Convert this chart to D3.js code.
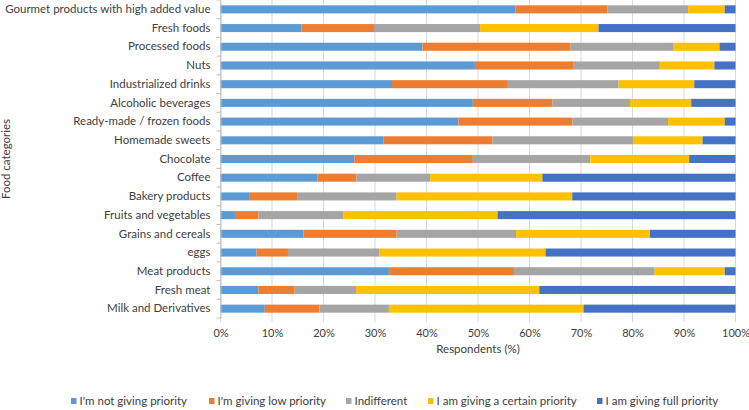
<!DOCTYPE html>
<html><head><meta charset="utf-8">
<script src="https://cdn.jsdelivr.net/npm/d3@7"></script>
<style>body{margin:0;background:#fff;} svg{display:block;} text{font-family:Lato,"Noto Sans",sans-serif;fill:#404040;}</style>
</head><body><svg id="c" width="749" height="410"></svg>
<script>
const categories = ["Gourmet products with high added value","Fresh foods","Processed foods","Nuts","Industrialized drinks","Alcoholic beverages","Ready-made / frozen foods","Homemade sweets","Chocolate","Coffee","Bakery products","Fruits and vegetables","Grains and cereals","eggs","Meat products","Fresh meat","Milk and Derivatives"];
const seriesNames = ["I'm not giving priority","I'm giving low priority","Indifferent","I am giving a certain priority","I am giving full priority"];
const notPriority = [57.3,15.7,39.2,49.4,33.3,49.0,46.2,31.6,26.0,18.8,5.7,2.8,16.1,7.0,32.7,7.4,8.6];
const lowPriority = [17.8,14.1,28.8,19.2,22.5,15.5,22.1,21.2,23.0,7.6,9.3,4.6,18.1,6.1,24.3,7.0,10.6];
const indifferent = [15.7,20.6,20.0,16.7,21.5,15.0,18.6,27.3,22.8,14.3,19.2,16.5,23.2,17.7,27.3,11.9,13.5];
const certainPriority = [7.1,23.0,8.9,10.6,14.7,11.9,11.0,13.5,19.2,21.8,34.1,29.9,26.0,32.3,13.6,35.6,37.8];
const fullPriority = [2.1,26.6,3.1,4.1,8.0,8.6,2.1,6.4,9.0,37.5,31.7,46.2,16.6,36.9,2.1,38.1,29.5];
const tickLabels = ["0%","10%","20%","30%","40%","50%","60%","70%","80%","90%","100%"];
const colors = ["#5B9BD5","#ED7D31","#A5A5A5","#FFC000","#4472C4"];

const svg = d3.select("#c");
const L=220.5, R=735.5, T=0, B=318;
const rows = categories.map((c,i)=>{
  const vals=[notPriority[i],lowPriority[i],indifferent[i],certainPriority[i],fullPriority[i]];
  const tot=d3.sum(vals);
  const o={cat:c}; seriesNames.forEach((s,k)=>o[s]=vals[k]/tot); return o;
});
const stacked = d3.stack().keys(seriesNames)(rows);
const x = d3.scaleLinear().domain([0,1]).range([L,R]);
const y = d3.scaleBand().domain(categories).range([T,B]).paddingInner(0.57).paddingOuter(0.285);

// gridlines
svg.append("g").selectAll("line").data(d3.range(0,11)).join("line")
  .attr("x1",d=>x(d/10)).attr("x2",d=>x(d/10)).attr("y1",T).attr("y2",B+4)
  .attr("stroke","#d9d9d9").attr("stroke-width",1);

// bars
svg.append("g").selectAll("g").data(stacked).join("g").attr("fill",(d,i)=>colors[i])
  .selectAll("rect").data(d=>d).join("rect")
  .attr("x",d=>x(d[0])).attr("width",d=>x(d[1])-x(d[0]))
  .attr("y",d=>y(d.data.cat)).attr("height",y.bandwidth());

// y axis
const yAxis = d3.axisLeft(y).tickSize(0).tickPadding(10);
const gy = svg.append("g").attr("transform",`translate(${L},0)`).call(yAxis);
gy.select(".domain").attr("stroke","#bfbfbf");
gy.selectAll("text").style("font-size","11.5px").attr("fill","#000");
// category separator ticks
svg.append("g").selectAll("line").data(d3.range(0,categories.length+1)).join("line")
  .attr("x1",L-4).attr("x2",L).attr("y1",d=>T+d*(B-T)/categories.length).attr("y2",d=>T+d*(B-T)/categories.length)
  .attr("stroke","#bfbfbf");

// x axis
const xAxis = d3.axisBottom(x).tickValues(d3.range(0,11).map(d=>d/10)).tickFormat((d,i)=>tickLabels[i]).tickSize(0).tickPadding(11);
const gx = svg.append("g").attr("transform",`translate(0,${B})`).call(xAxis);
gx.select(".domain").remove();
gx.selectAll("text").style("font-size","11px").attr("fill","#000");

svg.append("text").attr("x",(L+R)/2).attr("y",353).attr("text-anchor","middle").style("font-size","11.5px").attr("fill","#000").text("Respondents (%)");
svg.append("text").attr("transform",`translate(10,${(T+B)/2}) rotate(-90)`).attr("text-anchor","middle").style("font-size","11.5px").attr("fill","#000").text("Food categories");

// legend
const legX=[71,209,346,428,597];
const lg = svg.append("g").selectAll("g").data(seriesNames).join("g").attr("transform",(d,i)=>`translate(${legX[i]},401)`);
lg.append("rect").attr("x",0).attr("y",-3).attr("width",5.5).attr("height",6).attr("fill",(d,i)=>colors[i]);
lg.append("text").attr("x",8.5).attr("y",4).style("font-size","11.5px").attr("fill","#000").text(d=>d);
</script></body></html>
